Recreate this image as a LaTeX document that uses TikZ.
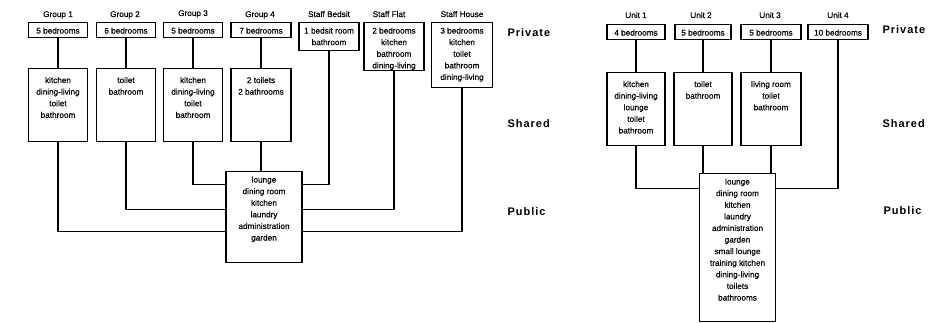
\documentclass[tikz,border=0pt]{standalone}
\usepackage{fontspec}
\setmainfont{Liberation Sans}
\newfontfamily\plan[FakeBold=0.35]{Liberation Sans}
\usepackage{tikz}

\newcommand{\rms}[3]{\parbox[t][#2pt][t]{#1pt}{\centering\rule{0pt}{11pt}#3}}
\newcommand{\rmsl}[3]{\parbox[t][#2pt][t]{#1pt}{\centering\rule{0pt}{14.5pt}#3}}

\begin{document}
\begin{tikzpicture}[x=1pt, y=-1pt,
  font=\plan\fontsize{8.2}{11.6}\selectfont,
  line width=1.1pt,
  room/.style={draw, anchor=north, inner sep=0pt},
  head/.style={anchor=base, inner sep=0pt},
  level/.style={anchor=west, inner sep=0pt,
    font=\fontsize{11}{13}\selectfont\bfseries\addfontfeature{LetterSpace=9}}]

\useasboundingbox (0,0) rectangle (928,323);

\node[head] (h1) at (58,17) {Group 1};
\node[head] (h2) at (125,17) {Group 2};
\node[head] (h3) at (193,16) {Group 3};
\node[head] (h4) at (260,17) {Group 4};
\node[head] (hb) at (329,17) {Staff Bedsit};
\node[head] (hf) at (389,17) {Staff Flat};
\node[head] (hh) at (462,17) {Staff House};

\node[room] (g1) at (58,22) {\rms{59}{15}{5 bedrooms}};
\node[room] (g2) at (126,22) {\rms{59}{15}{6 bedrooms}};
\node[room] (g3) at (193,22) {\rms{59}{15}{5 bedrooms}};
\node[room] (g4) at (261,22) {\rms{60}{15}{7 bedrooms}};
\node[room] (bed) at (329,22) {\rms{60}{28}{1 bedsit room\\bathroom}};
\node[room] (flat) at (394,22) {\rms{60}{48}{2 bedrooms\\kitchen\\bathroom\\dining-living}};
\node[room] (house) at (462,22) {\rms{61}{65}{3 bedrooms\\kitchen\\toilet\\bathroom\\dining-living}};

\node[room] (g1s) at (58,68) {\rmsl{59}{73}{kitchen\\dining-living\\toilet\\bathroom}};
\node[room] (g2s) at (126,68) {\rmsl{59}{73}{toilet\\bathroom}};
\node[room] (g3s) at (193,68) {\rmsl{59}{73}{kitchen\\dining-living\\toilet\\bathroom}};
\node[room] (g4s) at (261,68) {\rmsl{60}{73}{2 toilets\\2 bathrooms}};

\node[room] (pub) at (264,171) {\rms{76}{91}{lounge\\dining room\\kitchen\\laundry\\administration\\garden}};

\node[level] (pv1) at (507,33) {Private};
\node[level] (sh1) at (507,124) {Shared};
\node[level] (pb1) at (507,212) {Public};

\draw (g1.south) -- (g1s.north);
\draw (g2.south) -- (g2s.north);
\draw (g3.south) -- (g3s.north);
\draw (g4.south) -- (g4s.north);
\draw (g4s.south) -- (g4s.south |- pub.north);
\draw (g3s.south) |- ([yshift=32.5pt]pub.west);
\draw (g2s.south) |- ([yshift=7.5pt]pub.west);
\draw (g1s.south) |- ([yshift=-14.5pt]pub.west);
\draw (bed.south) |- ([yshift=32.5pt]pub.east);
\draw (flat.south) |- ([yshift=7.5pt]pub.east);
\draw (house.south) |- ([yshift=-14.5pt]pub.east);

\node[head] (k1) at (636,18) {Unit 1};
\node[head] (k2) at (701,18) {Unit 2};
\node[head] (k3) at (770,18) {Unit 3};
\node[head] (k4) at (838,18) {Unit 4};

\node[room] (u1) at (636,24) {\rms{58}{15}{4 bedrooms}};
\node[room] (u2) at (703,24) {\rms{56}{15}{5 bedrooms}};
\node[room] (u3) at (771,24) {\rms{60}{15}{5 bedrooms}};
\node[room] (u4) at (838,24) {\rms{60}{15}{10 bedrooms}};

\node[room] (u1s) at (636,72) {\rmsl{58}{73}{kitchen\\dining-living\\lounge\\toilet\\bathroom}};
\node[room] (u2s) at (703,72) {\rmsl{58}{73}{toilet\\bathroom}};
\node[room] (u3s) at (771,72) {\rmsl{60}{73}{living room\\toilet\\bathroom}};

\node[room] (pub2) at (737.5,173) {\rms{76}{148}{lounge\\dining room\\kitchen\\laundry\\administration\\garden\\small lounge\\training kitchen\\dining-living\\toilets\\bathrooms}};

\node[level] (pv2) at (882,30) {Private};
\node[level] (sh2) at (882,124) {Shared};
\node[level] (pb2) at (883,211) {Public};

\draw (u1.south) -- (u1s.north);
\draw (u2.south) -- (u2s.north);
\draw (u3.south) -- (u3s.north);
\draw (u1s.south) |- ([yshift=59pt]pub2.west);
\draw (u2s.south) -- (u2s.south |- pub2.north);
\draw (u3s.south) -- (u3s.south |- pub2.north);
\draw (u4.south) |- ([yshift=59pt]pub2.east);

\end{tikzpicture}
\end{document}
